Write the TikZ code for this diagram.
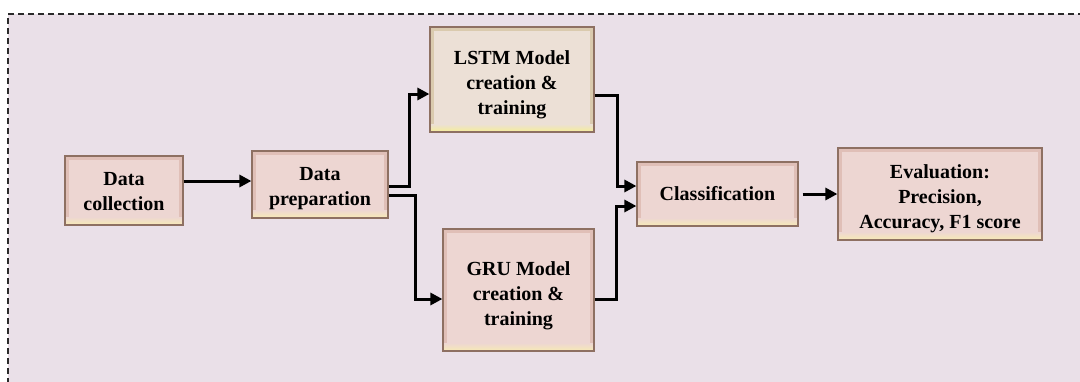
\documentclass[tikz,border=0pt]{standalone}
\usepackage{fontspec}
\setmainfont{Liberation Serif}
\usetikzlibrary{arrows.meta}

\definecolor{canvas}{HTML}{EAE0E8}
\definecolor{frameline}{HTML}{2A2A2A}
\definecolor{boxline}{HTML}{8E7062}
\definecolor{boxrim}{HTML}{E0BFB7}
\definecolor{boxfill}{HTML}{EDD6D2}
\definecolor{boxbot}{HTML}{F6E8B8}
\definecolor{tanrim}{HTML}{DACAAE}
\definecolor{tanfill}{HTML}{ECE0D6}
\definecolor{tanbot}{HTML}{F4EC9E}

% centred multi-line label, drawn lower by #1 without changing its reported size
\newcommand\blktext[2][0pt]{%
  \raisebox{#1}[\height][\depth]{\begin{tabular}{@{}c@{}}#2\end{tabular}}}

\tikzset{
  blk/.style={
    draw=boxline, line width=1.2pt, fill=boxrim,
    inner sep=0pt,
    font=\fontsize{20}{25}\selectfont\bfseries,
    path picture={
      \fill[boxfill]
        ([shift={(4pt,4pt)}]path picture bounding box.south west) rectangle
        ([shift={(-4pt,-4pt)}]path picture bounding box.north east);
      \shade[top color=boxfill, bottom color=boxbot]
        ([shift={(1pt,1pt)}]path picture bounding box.south west) rectangle
        ([shift={(-1pt,8pt)}]path picture bounding box.south east);
    }},
  tanblk/.style={
    blk, fill=tanrim,
    path picture={
      \fill[tanfill]
        ([shift={(4pt,4pt)}]path picture bounding box.south west) rectangle
        ([shift={(-4pt,-4pt)}]path picture bounding box.north east);
      \shade[top color=tanfill, bottom color=tanbot]
        ([shift={(1pt,1pt)}]path picture bounding box.south west) rectangle
        ([shift={(-1pt,8pt)}]path picture bounding box.south east);
    }},
  flow/.style={line width=3pt, -{Triangle[length=12pt,width=12pt]}}
}

\begin{document}
\begin{tikzpicture}[x=1pt,y=-1pt]
  \useasboundingbox (0,0) rectangle (1080,381);
  % dashed canvas
  \fill[canvas] (8,14) rectangle (1084,385);
  \draw[frameline, line width=1.4pt, dash pattern=on 6pt off 4pt]
    (1084,14) -- (8,14) -- (8,385);

  % process blocks
  \node[blk, minimum width=118pt, minimum height=69pt] (dc) at (124,190.5)
    {\blktext[-2pt]{Data\\collection}};
  \node[blk, minimum width=136pt, minimum height=67pt] (dp) at (320,184.5)
    {\blktext[-3pt]{Data\\preparation}};
  \node[tanblk, minimum width=164pt, minimum height=105pt] (lstm) at (512,79.5)
    {\blktext[-5pt]{LSTM Model\\creation \&\\training}};
  \node[blk, minimum width=151pt, minimum height=122pt] (gru) at (518.5,290)
    {\blktext[-5pt]{GRU Model\\creation \&\\training}};
  \node[blk, minimum width=161pt, minimum height=64pt] (cls) at (717.5,194)
    {\blktext[-1pt]{Classification}};
  \node[blk, minimum width=204pt, minimum height=92pt] (ev) at (940,194)
    {\blktext[-4pt]{Evaluation:\\Precision,\\Accuracy, F1 score}};

  % connectors
  \draw[flow] (dc.east |- 0,181) -- (dp.west |- 0,181);
  \draw[flow] (dp.east |- 0,186) -| (409,94) -- (lstm.west |- 0,94);
  \draw[flow] (dp.east |- 0,195) -| (415,299) -- (gru.west |- 0,299);
  \draw[flow] (lstm.east |- 0,95) -| (617,186) -- (cls.west |- 0,186);
  \draw[flow] (gru.east |- 0,299) -| (616,206) -- (cls.west |- 0,206);
  \draw[flow] ([xshift=4pt]cls.east) -- (ev.west);
\end{tikzpicture}
\end{document}
